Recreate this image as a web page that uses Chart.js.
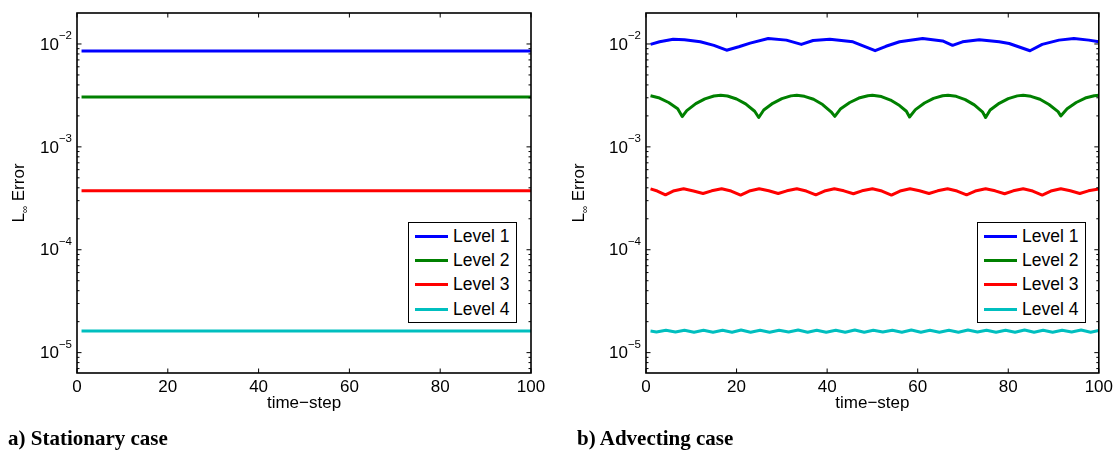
<!DOCTYPE html>
<html><head><meta charset="utf-8">
<script src="https://cdn.jsdelivr.net/npm/chart.js@4.4.1/dist/chart.umd.min.js"></script>
<style>
html,body{margin:0;padding:0;background:#fff;width:1117px;height:450px;overflow:hidden;position:relative;font-family:"Liberation Sans",Arial,sans-serif;}
canvas{position:absolute;top:0;}
#cA{left:0;} #cB{left:560px;}
.cap{position:absolute;top:426px;font-family:"Liberation Serif","Times New Roman",serif;font-weight:bold;font-size:21px;color:#000;white-space:nowrap;}
.legend{position:absolute;top:222px;width:109px;height:101px;border:1.5px solid #000;background:#fff;box-sizing:border-box;}
.legend .row{position:absolute;left:6px;height:20px;display:flex;align-items:center;}
.legend .sw{width:33px;height:3px;margin-right:5px;}
.legend .tx{font-size:17.5px;color:#000;}
</style></head>
<body>
<canvas id="cA" width="560" height="450"></canvas>
<canvas id="cB" width="557" height="450"></canvas>
<div class="cap" style="left:8px">a) Stationary case</div>
<div class="cap" style="left:577px">b) Advecting case</div>
<div class="legend" id="legA" style="left:408px"></div>
<div class="legend" id="legB" style="left:977px"></div>
<script>
// ---------------- data ----------------
const seriesNames = ['Level 1', 'Level 2', 'Level 3', 'Level 4'];
const seriesColors = ['#0000ff', '#008000', '#ff0000', '#00bfbf'];
const xTicks = [0, 20, 40, 60, 80, 100];
const yTicks = [1e-5, 1e-4, 1e-3, 1e-2];
const yTickLabels = [['10', '\u22125'], ['10', '\u22124'], ['10', '\u22123'], ['10', '\u22122']];

// a) stationary case: constant errors
const statTimes = [1, 20, 40, 60, 80, 100];
const statL1 = [0.00855, 0.00855, 0.00855, 0.00855, 0.00855, 0.00855];
const statL2 = [0.00305, 0.00305, 0.00305, 0.00305, 0.00305, 0.00305];
const statL3 = [0.000375, 0.000375, 0.000375, 0.000375, 0.000375, 0.000375];
const statL4 = [1.62e-5, 1.62e-5, 1.62e-5, 1.62e-5, 1.62e-5, 1.62e-5];

// b) advecting case
const advL1t = [1, 3, 6, 8.5, 12, 15, 17.8, 20.5, 23, 27, 31, 34.3, 36.9, 40.6, 45.7, 50.6, 53, 56, 61.1, 65.5, 67.7, 69.9, 73.6, 78, 80.2, 84.8, 87.5, 91.2, 94.5, 97.8, 100];
const advL1v = [0.0099, 0.0105, 0.0111, 0.0110, 0.0105, 0.0097, 0.0087, 0.0094, 0.0102, 0.0113, 0.0109, 0.0099, 0.0108, 0.0111, 0.0105, 0.0086, 0.0095, 0.0105, 0.0113, 0.0107, 0.0097, 0.0105, 0.0110, 0.0105, 0.0101, 0.0086, 0.0099, 0.0109, 0.0113, 0.0109, 0.0105];

const advL2t = [1, 3, 5, 7, 8, 9, 11, 13, 15, 16.5, 18, 20, 22, 24, 24.9, 26, 28, 30, 32, 33.3, 35, 37, 39, 41, 41.7, 43, 45, 47, 49, 50, 52, 54, 56, 57.5, 58.2, 59.5, 61.5, 63.5, 65.5, 66.7, 68.5, 70.5, 72.5, 74.3, 75, 76, 78, 80, 82, 83.3, 85, 87, 89, 91, 91.6, 93, 95, 97, 99, 100];
const advL2v = [0.00314, 0.00298, 0.00270, 0.00235, 0.00197, 0.00225, 0.00263, 0.00293, 0.00312, 0.00317, 0.00312, 0.00292, 0.00262, 0.00222, 0.00193, 0.00228, 0.00265, 0.00294, 0.00313, 0.00317, 0.00310, 0.00290, 0.00258, 0.00216, 0.00198, 0.00235, 0.00270, 0.00298, 0.00314, 0.00317, 0.00308, 0.00285, 0.00252, 0.00222, 0.00195, 0.00230, 0.00267, 0.00296, 0.00314, 0.00317, 0.00310, 0.00288, 0.00256, 0.00219, 0.00193, 0.00228, 0.00265, 0.00294, 0.00313, 0.00317, 0.00310, 0.00290, 0.00258, 0.00220, 0.00200, 0.00235, 0.00270, 0.00298, 0.00314, 0.00317];

const advL3t = [1, 2.5, 4.3, 6, 8.3, 10.5, 12.6, 14.5, 16.7, 18.8, 20.9, 22.8, 25, 27.1, 29.2, 31.1, 33.3, 35.4, 37.5, 39.4, 41.6, 43.7, 45.8, 47.7, 50, 52.1, 54.2, 56.1, 58.3, 60.4, 62.5, 64.4, 66.6, 68.7, 70.8, 72.7, 75, 77.1, 79.2, 81.1, 83.3, 85.4, 87.5, 89.4, 91.6, 93.7, 95.8, 97.7, 100];
const advL3v = [0.000390, 0.000372, 0.000342, 0.000372, 0.000392, 0.000372, 0.000352, 0.000374, 0.000392, 0.000372, 0.000340, 0.000372, 0.000392, 0.000374, 0.000352, 0.000374, 0.000392, 0.000372, 0.000342, 0.000372, 0.000392, 0.000374, 0.000350, 0.000374, 0.000392, 0.000372, 0.000340, 0.000372, 0.000392, 0.000374, 0.000352, 0.000374, 0.000392, 0.000372, 0.000342, 0.000372, 0.000392, 0.000374, 0.000350, 0.000374, 0.000392, 0.000372, 0.000340, 0.000372, 0.000392, 0.000374, 0.000352, 0.000374, 0.000390];

const advL4t = [1, 2.3, 4.4, 6.5, 8.5, 10.6, 12.7, 14.8, 16.9, 19.0, 21.0, 23.1, 25.2, 27.3, 29.4, 31.5, 33.6, 35.7, 37.7, 39.8, 41.9, 44.0, 46.1, 48.2, 50.2, 52.3, 54.4, 56.5, 58.6, 60.7, 62.7, 64.8, 66.9, 69.0, 71.1, 73.2, 75.2, 77.3, 79.4, 81.5, 83.6, 85.7, 87.7, 89.8, 91.9, 94.0, 96.1, 98.2, 100];
const advL4v = [1.62e-5, 1.59e-5, 1.65e-5, 1.59e-5, 1.65e-5, 1.58e-5, 1.65e-5, 1.58e-5, 1.65e-5, 1.58e-5, 1.66e-5, 1.58e-5, 1.65e-5, 1.58e-5, 1.65e-5, 1.59e-5, 1.66e-5, 1.58e-5, 1.65e-5, 1.58e-5, 1.65e-5, 1.58e-5, 1.66e-5, 1.58e-5, 1.65e-5, 1.59e-5, 1.65e-5, 1.58e-5, 1.66e-5, 1.58e-5, 1.65e-5, 1.58e-5, 1.65e-5, 1.58e-5, 1.66e-5, 1.59e-5, 1.65e-5, 1.58e-5, 1.65e-5, 1.58e-5, 1.66e-5, 1.58e-5, 1.65e-5, 1.58e-5, 1.65e-5, 1.59e-5, 1.66e-5, 1.58e-5, 1.64e-5];

// ---------------- helpers ----------------
const FONT = '"Liberation Sans", Arial, Helvetica, sans-serif';
Chart.defaults.font.family = FONT;
Chart.defaults.color = '#000';

function pts(ts, vs) { return ts.map((t, i) => ({ x: t, y: vs[i] })); }

function makeDatasets(pairs) {
  return pairs.map((p, i) => ({
    label: seriesNames[i],
    data: pts(p[0], p[1]),
    borderColor: seriesColors[i],
    backgroundColor: seriesColors[i],
    borderWidth: 3,
    pointRadius: 0,
    tension: 0,
    borderJoinStyle: 'round',
    borderCapStyle: 'butt',
    fill: false
  }));
}

const minorMult = [2, 3, 4, 5, 6, 7, 8, 9];

const framePlugin = {
  id: 'frame',
  afterDatasetsDraw(chart) {
    const { ctx, chartArea: a } = chart;
    const xs = chart.scales.x, ys = chart.scales.y;
    ctx.save();
    const seg = (x1, y1, x2, y2) => { ctx.beginPath(); ctx.moveTo(x1, y1); ctx.lineTo(x2, y2); ctx.stroke(); };
    ctx.strokeStyle = '#000';
    ctx.lineWidth = 1;
    xs.ticks.forEach(t => {
      const px = xs.getPixelForValue(t.value);
      seg(px, a.bottom, px, a.bottom - 4.5);
      seg(px, a.top, px, a.top + 4.5);
    });
    yTicks.forEach(v => {
      const py = ys.getPixelForValue(v);
      seg(a.left, py, a.left + 4.5, py);
      seg(a.right, py, a.right - 4.5, py);
    });
    const decades = [1e-6].concat(yTicks);
    decades.forEach(d => minorMult.forEach(m => {
      const v = d * m;
      if (v <= ys.min || v >= ys.max) return;
      const py = ys.getPixelForValue(v);
      seg(a.left, py, a.left + 2.5, py);
      seg(a.right, py, a.right - 2.5, py);
    }));
    ctx.lineWidth = 1.6;
    ctx.strokeRect(a.left, a.top, a.right - a.left, a.bottom - a.top);
    ctx.fillStyle = '#000';
    ctx.textBaseline = 'middle';
    yTicks.forEach((v, i) => {
      const py = ys.getPixelForValue(v);
      const [base, ex] = yTickLabels[i];
      ctx.font = '11.5px ' + FONT;
      const we = ctx.measureText(ex).width;
      ctx.textAlign = 'left';
      const xr = a.left - 5;
      ctx.fillText(ex, xr - we, py - 8);
      ctx.font = '17px ' + FONT;
      ctx.textAlign = 'right';
      ctx.fillText(base, xr - we, py + 1);
    });
    ctx.translate(18, (a.top + a.bottom) / 2);
    ctx.rotate(-Math.PI / 2);
    ctx.font = '17px ' + FONT;
    const wL = ctx.measureText('L').width;
    const wE = ctx.measureText(' Error').width;
    ctx.font = '10px ' + FONT;
    const wI = ctx.measureText('\u221e').width;
    const tot = wL + wI + wE;
    let x0 = -tot / 2;
    ctx.textAlign = 'left';
    ctx.textBaseline = 'alphabetic';
    ctx.font = '17px ' + FONT;
    ctx.fillText('L', x0, 6);
    ctx.font = '10px ' + FONT;
    ctx.fillText('\u221e', x0 + wL, 10);
    ctx.font = '17px ' + FONT;
    ctx.fillText(' Error', x0 + wL + wI, 6);
    ctx.restore();
  }
};

function makeChart(id, datasets, pad) {
  return new Chart(document.getElementById(id), {
    type: 'line',
    data: { datasets },
    options: {
      responsive: false,
      animation: false,
      devicePixelRatio: 1,
      layout: { padding: pad },
      plugins: { legend: { display: false }, tooltip: { enabled: false } },
      scales: {
        x: {
          type: 'linear', min: 0, max: 100,
          afterBuildTicks: s => { s.ticks = xTicks.map(v => ({ value: v })); },
          afterFit: s => { s.height = 77; },
          grid: { display: false, drawTicks: false },
          border: { display: false },
          ticks: { font: { size: 17 }, padding: 4, maxRotation: 0, color: '#000' },
          title: { display: true, text: 'time\u2212step', font: { size: 17 }, padding: { top: 0, bottom: 36 }, color: '#000' }
        },
        y: {
          type: 'logarithmic', min: 6.34e-6, max: 0.02,
          afterBuildTicks: s => { s.ticks = yTicks.map(v => ({ value: v })); },
          afterFit: s => { s.width = 77; },
          grid: { display: false, drawTicks: false },
          border: { display: false },
          ticks: { display: false }
        }
      }
    },
    plugins: [framePlugin]
  });
}

const chartA = makeChart('cA', makeDatasets([[statTimes, statL1], [statTimes, statL2], [statTimes, statL3], [statTimes, statL4]]), { left: 0, right: 29, top: 13, bottom: 0 });
const chartB = makeChart('cB', makeDatasets([[advL1t, advL1v], [advL2t, advL2v], [advL3t, advL3v], [advL4t, advL4v]]), { left: 9, right: 17, top: 13, bottom: 0 });

function buildLegend(chart, id) {
  const el = document.getElementById(id);
  chart.data.datasets.forEach((ds, i) => {
    const row = document.createElement('div');
    row.className = 'row';
    row.style.top = (3.5 + i * 24.2) + 'px';
    const sw = document.createElement('div');
    sw.className = 'sw'; sw.style.background = ds.borderColor;
    const tx = document.createElement('span');
    tx.className = 'tx'; tx.textContent = ds.label;
    row.appendChild(sw); row.appendChild(tx);
    el.appendChild(row);
  });
}
buildLegend(chartA, 'legA');
buildLegend(chartB, 'legB');
</script>
</body></html>
